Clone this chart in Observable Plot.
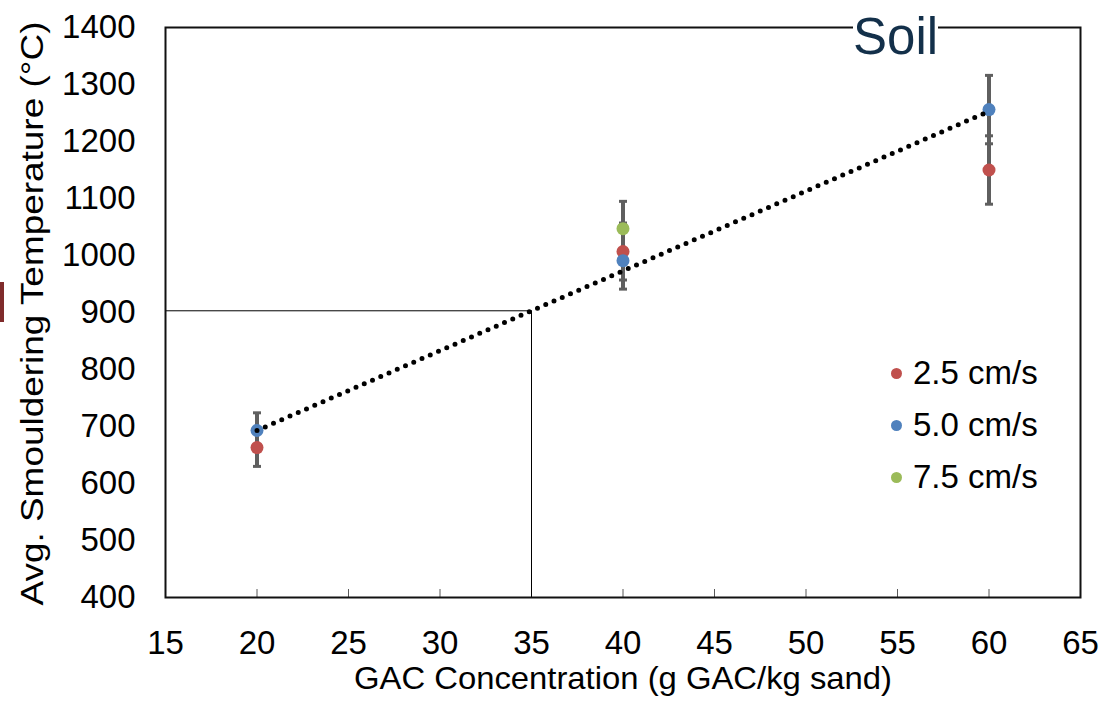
<!DOCTYPE html>
<html>
<head>
<meta charset="utf-8">
<script src="https://cdn.jsdelivr.net/npm/d3@7"></script>
<script src="https://cdn.jsdelivr.net/npm/@observablehq/plot@0.6"></script>
<style>
  body { margin: 0; background: white; }
  #wrap { position: relative; width: 1101px; height: 709px; font-family: "Liberation Sans", Arial, sans-serif; }
  #soil { position: absolute; left: 853px; top: 11px; font-size: 51px; line-height: 51px; color: #13304a; background: white; padding: 0; }
  #bar { position: absolute; left: 0; top: 282px; width: 4px; height: 40px; background: #7f2b2b; }
  #legend { position: absolute; left: 891px; top: 352px; font-size: 33px; color: #000; }
  .item { position: relative; height: 52px; line-height: 42px; padding-left: 22px; white-space: nowrap; }
  .sw { position: absolute; left: 0; top: 16px; width: 11px; height: 11px; border-radius: 50%; }
</style>
</head>
<body>
<div id="wrap"></div>
<script>
// ---- data ----
const conc = [20, 40, 60];
const seriesNames = ["2.5 cm/s", "5.0 cm/s", "7.5 cm/s"];
const seriesColors = ["#c0504d", "#4f81bd", "#9bbb59"];
const temp25 = [663, 1007, 1150];
const err25 = [33, 50, 60];
const temp50 = [693, 991, 1256];
const err50 = [31, 50, 60];
const temp75 = [null, 1047, null];
const err75 = [null, 48, null];
const trendX = [20, 60];
const trendY = [693, 1253];
const guideX = [35];
const guideY = [903];
const xDomain = [15, 65];
const yDomain = [400, 1400];
const xTicks = [15, 20, 25, 30, 35, 40, 45, 50, 55, 60, 65];
const xInnerTicks = [20, 25, 30, 35, 40, 45, 50, 55, 60];
const yTicks = [400, 500, 600, 700, 800, 900, 1000, 1100, 1200, 1300, 1400];
const xTitle = "GAC Concentration (g GAC/kg sand)";
const yTitle = "Avg. Smouldering Temperature (°C)";
const soilLabel = "Soil";

// ---- build rows ----
const temps = [temp25, temp50, temp75];
const errs = [err25, err50, err75];
const rows = [];
seriesNames.forEach((s, i) => {
  conc.forEach((c, j) => {
    const v = temps[i][j];
    if (v == null) return;
    const e = errs[i][j];
    rows.push({series: s, color: seriesColors[i], x: c, y: v, lo: v - e, hi: v + e});
  });
});
const trend = trendX.map((x, i) => ({x, y: trendY[i]}));
const capSymbol = {draw(ctx) { ctx.rect(-4, -1.5, 8, 3); }};

const chart = Plot.plot({
  width: 1101,
  height: 709,
  marginLeft: 165,
  marginRight: 21,
  marginTop: 27,
  marginBottom: 112,
  x: {domain: xDomain},
  y: {domain: yDomain},
  style: {fontFamily: "'Liberation Sans', Arial, sans-serif", background: "white", color: "black", overflow: "visible"},
  marks: [
    Plot.axisX({ticks: xTicks, tickSize: 0, tickPadding: 33, fontSize: 33, label: null, tickFormat: d => String(d)}),
    Plot.axisY({ticks: yTicks, tickSize: 0, tickPadding: 30, fontSize: 33, label: null, tickFormat: d => String(d)}),
    Plot.tickX(xInnerTicks, {x: d => d, insetTop: 562, stroke: "#595959", strokeWidth: 1}),
    Plot.ruleY(guideY, {y: d => d, x1: xDomain[0], x2: guideX[0], stroke: "#000", strokeWidth: 1}),
    Plot.ruleX(guideX, {x: d => d, y1: yDomain[0], y2: guideY[0], stroke: "#000", strokeWidth: 1}),
    Plot.ruleX(rows, {x: "x", y1: "lo", y2: "hi", stroke: "#5f5f5f", strokeWidth: 4}),
    Plot.dot(rows, {x: "x", y: "lo", symbol: capSymbol, fill: "#5f5f5f", stroke: "none"}),
    Plot.dot(rows, {x: "x", y: "hi", symbol: capSymbol, fill: "#5f5f5f", stroke: "none"}),
    Plot.dot(rows, {x: "x", y: "y", r: 6.5, fill: d => d.color, stroke: "none"}),
    Plot.line(trend, {x: "x", y: "y", stroke: "#000", strokeWidth: 5, strokeDasharray: "0 9", strokeLinecap: "round"}),
    Plot.frame({stroke: "#111", strokeWidth: 2}),
    Plot.text([xTitle], {text: d => d, frameAnchor: "bottom", textAnchor: "middle", dy: 91, fontSize: 31.5, fill: "#000"}),
    Plot.text([yTitle], {text: d => d, frameAnchor: "left", textAnchor: "middle", rotate: -90, dx: -133, dy: 1, fontSize: 32, fill: "#000"})
  ]
});

const wrap = document.getElementById("wrap");
wrap.appendChild(chart);

// stretch titles along their reading direction to match the reference lengths
chart.querySelectorAll("text").forEach(t => {
  if (t.textContent === xTitle) { t.setAttribute("textLength", 538); t.setAttribute("lengthAdjust", "spacingAndGlyphs"); }
  if (t.textContent === yTitle) { t.setAttribute("textLength", 584); t.setAttribute("lengthAdjust", "spacingAndGlyphs"); }
});

const soil = document.createElement("div");
soil.id = "soil";
soil.textContent = soilLabel;
wrap.appendChild(soil);

const bar = document.createElement("div");
bar.id = "bar";
wrap.appendChild(bar);

const legend = document.createElement("div");
legend.id = "legend";
seriesNames.forEach((s, i) => {
  const item = document.createElement("div");
  item.className = "item";
  const sw = document.createElement("span");
  sw.className = "sw";
  sw.style.background = seriesColors[i];
  item.appendChild(sw);
  item.appendChild(document.createTextNode(s));
  legend.appendChild(item);
});
wrap.appendChild(legend);
</script>
</body>
</html>
